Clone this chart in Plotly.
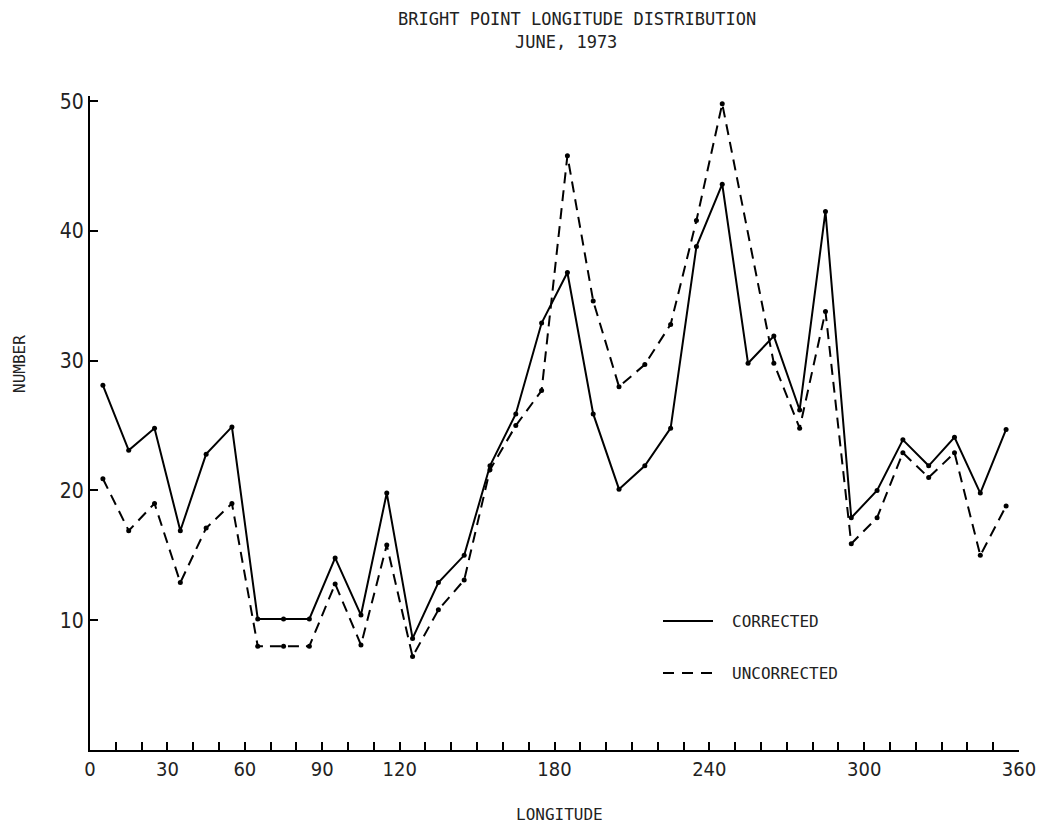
import plotly.graph_objects as go

longitude = [5, 15, 25, 35, 45, 55, 65, 75, 85, 95, 105, 115, 125, 135, 145, 155, 165, 175,
             185, 195, 205, 215, 225, 235, 245, 255, 265, 275, 285, 295, 305, 315, 325, 335, 345, 355]
corrected = [28.1, 23.1, 24.8, 16.9, 22.8, 24.9, 10.1, 10.1, 10.1, 14.8, 10.4, 19.8, 8.6, 12.9, 15.0, 21.9, 25.9, 32.9,
             36.8, 25.9, 20.1, 21.9, 24.8, 38.8, 43.6, 29.8, 31.9, 26.2, 41.5, 17.9, 20.0, 23.9, 21.9, 24.1, 19.8, 24.7]
uncorrected = [20.9, 16.9, 19.0, 12.9, 17.1, 19.0, 8.0, 8.0, 8.0, 12.8, 8.1, 15.8, 7.2, 10.8, 13.1, 21.6, 25.0, 27.7,
               45.8, 34.6, 28.0, 29.7, 32.8, 40.8, 49.8, None, 29.8, 24.8, 33.8, 15.9, 17.9, 22.9, 21.0, 22.9, 15.0, 18.8]

x_labels = [0, 30, 60, 90, 120, 180, 240, 300, 360]
y_labels = [10, 20, 30, 40, 50]

FONT = "DejaVu Sans Mono"
TICKFONT = "Liberation Sans Narrow, DejaVu Sans Condensed, sans-serif"
INK = "#222"

fig = go.Figure()
fig.add_trace(go.Scatter(x=longitude, y=corrected, mode="lines+markers", name="CORRECTED",
                         line=dict(color="black", width=2),
                         marker=dict(color="black", size=5), showlegend=False))
fig.add_trace(go.Scatter(x=longitude, y=uncorrected, mode="lines+markers", name="UNCORRECTED",
                         connectgaps=True,
                         line=dict(color="black", width=2, dash="11px,7px"),
                         marker=dict(color="black", size=5), showlegend=False))

fig.update_layout(
    width=1030, height=818,
    margin=dict(l=82, r=19, t=88, b=76),
    paper_bgcolor="white", plot_bgcolor="white",
    xaxis=dict(range=[0, 360], tickmode="array", tickvals=x_labels, ticktext=[str(v) for v in x_labels],
               ticks="inside", ticklen=8, tickwidth=1.5, tickcolor="black",
               showline=True, linecolor="black", linewidth=2, showgrid=False, zeroline=False,
               automargin=False, ticklabeloverflow="allow",
               tickfont=dict(family=TICKFONT, size=20, color=INK),
               minor=dict(tickmode="array", tickvals=[v for v in range(10, 360, 10) if v not in x_labels],
                          ticks="inside", ticklen=8, tickwidth=1.5, tickcolor="black", showgrid=False)),
    yaxis=dict(range=[0, 50.4], tickmode="array", tickvals=y_labels, ticktext=[str(v) for v in y_labels],
               ticks="inside", ticklen=8, tickwidth=1.5, tickcolor="black",
               showline=True, linecolor="black", linewidth=2, showgrid=False, zeroline=False,
               automargin=False,
               tickfont=dict(family=TICKFONT, size=21, color=INK)),
)

PLOT_W = 1030 - 82 - 19


def px_x(p):
    return (p - 90) / PLOT_W


def px_y(p):
    return (750 - p) / 654


fig.add_annotation(text="BRIGHT POINT LONGITUDE DISTRIBUTION", xref="paper", yref="paper",
                   x=px_x(577), y=px_y(19), xanchor="center", yanchor="middle", showarrow=False,
                   font=dict(family=FONT, size=17, color=INK))
fig.add_annotation(text="JUNE, 1973", xref="paper", yref="paper",
                   x=px_x(566), y=px_y(42), xanchor="center", yanchor="middle", showarrow=False,
                   font=dict(family=FONT, size=17, color=INK))
fig.add_annotation(text="NUMBER", xref="paper", yref="paper", textangle=-90,
                   x=px_x(20), y=px_y(364), xanchor="center", yanchor="middle", showarrow=False,
                   font=dict(family=FONT, size=16, color=INK))
fig.add_annotation(text="LONGITUDE", xref="paper", yref="paper",
                   x=px_x(559), y=px_y(814), xanchor="center", yanchor="middle", showarrow=False,
                   font=dict(family=FONT, size=16, color=INK))
fig.add_annotation(text="CORRECTED", xref="paper", yref="paper", x=px_x(730), y=px_y(621),
                   xanchor="left", yanchor="middle", showarrow=False,
                   font=dict(family=FONT, size=16, color=INK))
fig.add_annotation(text="UNCORRECTED", xref="paper", yref="paper", x=px_x(730), y=px_y(673),
                   xanchor="left", yanchor="middle", showarrow=False,
                   font=dict(family=FONT, size=16, color=INK))
fig.add_shape(type="line", xref="paper", yref="paper", x0=px_x(663), x1=px_x(713), y0=px_y(621), y1=px_y(621),
              line=dict(color="black", width=2))
fig.add_shape(type="line", xref="paper", yref="paper", x0=px_x(663), x1=px_x(713), y0=px_y(673), y1=px_y(673),
              line=dict(color="black", width=2, dash="11px,8px"))

fig.write_html("out.html")
